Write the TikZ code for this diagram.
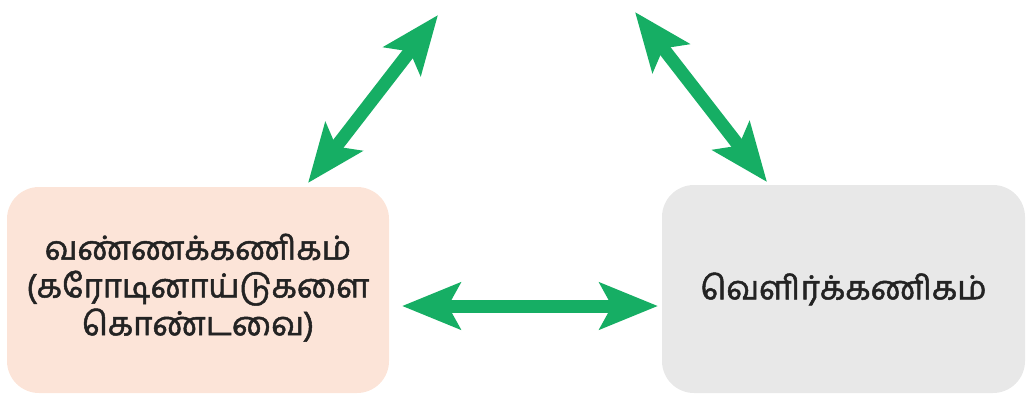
\documentclass[tikz,border=0pt]{standalone}
\usepackage{fontspec}
\newfontfamily\tamilfont[Script=Tamil,FakeBold=1.5]{Hind Madurai}
\usetikzlibrary{arrows.meta}
\definecolor{arrowgreen}{RGB}{22,174,100}
\definecolor{peach}{RGB}{252,228,216}
\definecolor{lightgrey}{RGB}{232,232,232}
\definecolor{txt}{RGB}{35,35,35}
\begin{document}
\begin{tikzpicture}[x=1pt,y=-1pt,
  box/.style={rounded corners=32pt, inner sep=0pt, align=center,
    font=\tamilfont\fontsize{33}{37}\selectfont, text=txt},
  tip/.tip={Stealth[length=58pt,width=46pt,inset=12pt]},
  biarrow/.style={line width=13pt, draw=arrowgreen, tip-tip}]
\useasboundingbox (0,0) rectangle (1027,394);
\node[box, fill=peach, minimum width=382pt, minimum height=206pt] (L) at (198,290)
  {\raisebox{-7pt}{\begin{tabular}{@{}c@{}}வண்ணக்கணிகம்\\(கரோடினாய்டுகளை\\கொண்டவை)\end{tabular}}};
\node[box, fill=lightgrey, minimum width=363pt, minimum height=208pt] (R) at (843.5,289)
  {\raisebox{-7pt}{வெளிர்க்கணிகம்}};
\coordinate (topA) at (438,15);
\coordinate (topB) at (635,12);
\coordinate (lA) at (308,183);
\coordinate (rB) at (767,182);
\coordinate (lH) at (402,306);
\coordinate (rH) at (658,306);
\draw[biarrow] (lA) -- (topA);
\draw[biarrow] (topB) -- (rB);
\draw[biarrow] (lH) -- (rH);
\end{tikzpicture}
\end{document}
